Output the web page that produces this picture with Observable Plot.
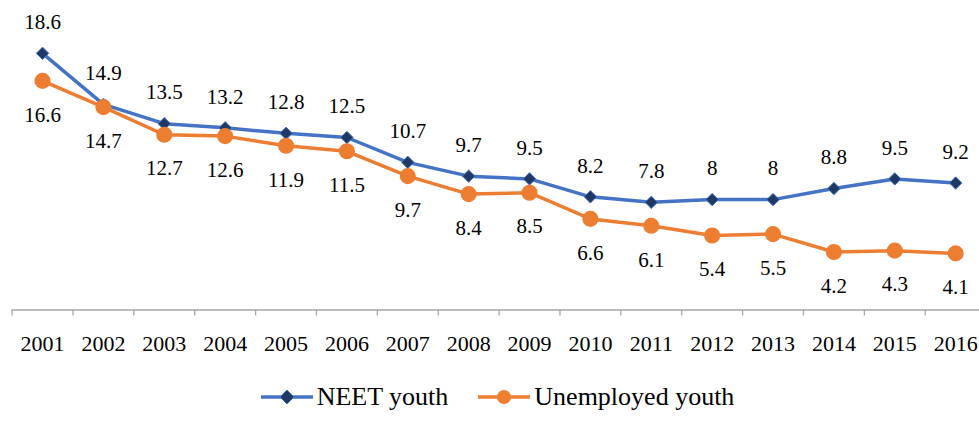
<!DOCTYPE html>
<html>
<head>
<meta charset="utf-8">
<script src="https://cdn.jsdelivr.net/npm/d3@7"></script>
<script src="https://cdn.jsdelivr.net/npm/@observablehq/plot@0.6"></script>
<style>
  html, body { margin: 0; padding: 0; background: #fff; overflow: hidden; }
  #chart svg { display: block; }
  #legend { display: flex; justify-content: center; align-items: center; height: 53px; font-family: "Liberation Serif", "Times New Roman", Tinos, "DejaVu Serif", serif; font-size: 26px; color: #000; padding-left: 14px; box-sizing: border-box; }
  .item { display: flex; align-items: center; margin: 0 14px; }
  .item svg { margin-right: 2px; }
</style>
</head>
<body>
<div id="chart"></div>
<div id="legend"></div>
<script>
const years = [2001, 2002, 2003, 2004, 2005, 2006, 2007, 2008, 2009, 2010, 2011, 2012, 2013, 2014, 2015, 2016];
const neet = [18.6, 14.9, 13.5, 13.2, 12.8, 12.5, 10.7, 9.7, 9.5, 8.2, 7.8, 8, 8, 8.8, 9.5, 9.2];
const unemployed = [16.6, 14.7, 12.7, 12.6, 11.9, 11.5, 9.7, 8.4, 8.5, 6.6, 6.1, 5.4, 5.5, 4.2, 4.3, 4.1];
const seriesNames = ["NEET youth", "Unemployed youth"];
const colors = {line1: "#4472C4", marker1: "#1F3864", line2: "#ED7D31"};
const FONT = '"Liberation Serif", "Times New Roman", Tinos, "DejaVu Serif", serif';

const neetData = years.map((y, i) => ({year: y, value: neet[i]}));
const unempData = years.map((y, i) => ({year: y, value: unemployed[i]}));
const boundaries = years.map(y => y - 0.5).concat([years[years.length - 1] + 0.5]);

const chart = Plot.plot({
  width: 979,
  height: 370,
  marginTop: 33.5,
  marginBottom: 60.5,
  marginLeft: 11.6,
  marginRight: -6.6,
  x: {domain: [2000.5, 2016.5]},
  y: {domain: [0, 20], axis: null},
  style: {fontFamily: FONT, background: "white", color: "black", overflow: "visible"},
  marks: [
    Plot.ruleY([0], {stroke: "#A6A6A6", strokeWidth: 1.3}),
    Plot.axisX(boundaries, {tickSize: 6, tickFormat: () => "", stroke: "#A6A6A6", strokeWidth: 1.3, label: null}),
    Plot.axisX(years, {tickSize: 0, tickPadding: 25, fontSize: 22, tickFormat: d => String(d), label: null}),
    Plot.line(neetData, {x: "year", y: "value", stroke: colors.line1, strokeWidth: 3.5}),
    Plot.dot(neetData, {x: "year", y: "value", symbol: "diamond2", r: 5.6, fill: colors.marker1, stroke: colors.line1, strokeWidth: 1}),
    Plot.line(unempData, {x: "year", y: "value", stroke: colors.line2, strokeWidth: 3.5}),
    Plot.dot(unempData, {x: "year", y: "value", r: 7.3, fill: colors.line2, stroke: colors.line2}),
    Plot.text(neetData, {x: "year", y: "value", text: d => String(d.value), dy: -31, fontSize: 21, fill: "black"}),
    Plot.text(unempData, {x: "year", y: "value", text: d => String(d.value), dy: 34, fontSize: 21, fill: "black"})
  ]
});
chart.querySelectorAll("text").forEach(t => t.style.fontFamily = FONT);
document.getElementById("chart").appendChild(chart);

const legend = document.getElementById("legend");
legend.innerHTML = `
  <div class="item"><svg width="56" height="20"><line x1="2" y1="10" x2="54" y2="10" stroke="${colors.line1}" stroke-width="3.5"/><path d="M28,3 L35,10 L28,17 L21,10 Z" fill="${colors.marker1}" stroke="${colors.line1}" stroke-width="1"/></svg><span>${seriesNames[0]}</span></div>
  <div class="item"><svg width="56" height="20"><line x1="2" y1="10" x2="54" y2="10" stroke="${colors.line2}" stroke-width="3.5"/><circle cx="28" cy="10" r="7" fill="${colors.line2}"/></svg><span>${seriesNames[1]}</span></div>
`;
</script>
</body>
</html>
